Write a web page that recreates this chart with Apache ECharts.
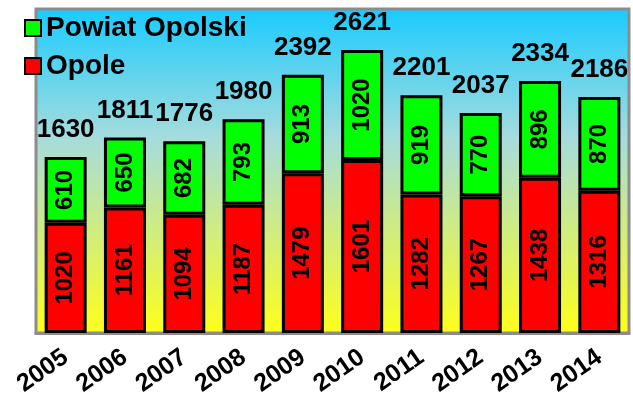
<!DOCTYPE html>
<html>
<head>
<meta charset="utf-8">
<script src="https://cdn.jsdelivr.net/npm/echarts@6/dist/echarts.min.js"></script>
<style>
  html, body { margin: 0; padding: 0; background: #fff; }
  #chart { width: 633px; height: 401px; }
</style>
</head>
<body>
<div id="chart"></div>
<script>
  const years = ['2005', '2006', '2007', '2008', '2009', '2010', '2011', '2012', '2013', '2014']
  const opole = [1020, 1161, 1094, 1187, 1479, 1601, 1282, 1267, 1438, 1316]
  const powiat = [610, 650, 682, 793, 913, 1020, 919, 770, 896, 870]
  const totals = [1630, 1811, 1776, 1980, 2392, 2621, 2201, 2037, 2334, 2186]

  const font = 'Liberation Sans'
  const chart = echarts.init(document.getElementById('chart'))

  const inside = {
    show: true,
    position: 'inside',
    rotate: 90,
    color: '#000',
    fontFamily: font,
    fontWeight: 'bold',
    fontSize: 24
  }

  chart.setOption({
    animation: false,
    backgroundColor: '#fff',
    grid: {
      left: 36,
      right: 4,
      top: 9,
      bottom: 68,
      show: true,
      borderColor: '#8c8c8c',
      borderWidth: 3,
      backgroundColor: new echarts.graphic.LinearGradient(0, 0, 0, 1, [
        { offset: 0, color: '#19cbff' },
        { offset: 0.4, color: '#a6dcdc' },
        { offset: 1, color: '#ffff19' }
      ])
    },
    legend: {
      data: ['Powiat Opolski', 'Opole'],
      orient: 'vertical',
      left: 24,
      top: 14,
      padding: 0,
      icon: 'rect',
      itemWidth: 16,
      itemHeight: 16,
      itemGap: 10,
      textStyle: {
        color: '#000',
        fontFamily: font,
        fontWeight: 'bold',
        fontSize: 28
      }
    },
    xAxis: {
      type: 'category',
      data: years,
      axisLine: { lineStyle: { color: '#8c8c8c', width: 3 } },
      axisTick: { length: 7, lineStyle: { color: '#666', width: 2 } },
      axisLabel: {
        interval: 0,
        rotate: 35,
        margin: 22,
        color: '#000',
        fontFamily: font,
        fontWeight: 'bold',
        fontSize: 25
      }
    },
    yAxis: {
      type: 'value',
      min: 0,
      max: 3000,
      show: false,
      splitLine: { show: false }
    },
    series: [
      {
        name: 'Opole',
        type: 'bar',
        stack: 'all',
        barWidth: 42,
        data: opole,
        itemStyle: { color: '#ff0000', borderColor: '#000', borderWidth: 3 },
        label: inside
      },
      {
        name: 'Powiat Opolski',
        type: 'bar',
        stack: 'all',
        barWidth: 42,
        data: powiat,
        itemStyle: { color: '#00ff00', borderColor: '#000', borderWidth: 3 },
        label: inside
      },
      {
        name: 'total',
        type: 'bar',
        stack: 'all',
        barWidth: 42,
        data: totals.map(() => 0),
        itemStyle: { color: 'transparent', borderWidth: 0 },
        label: {
          show: true,
          position: 'top',
          distance: 14,
          formatter: p => totals[p.dataIndex],
          color: '#000',
          fontFamily: font,
          fontWeight: 'bold',
          fontSize: 26
        }
      }
    ]
  })
</script>
</body>
</html>
